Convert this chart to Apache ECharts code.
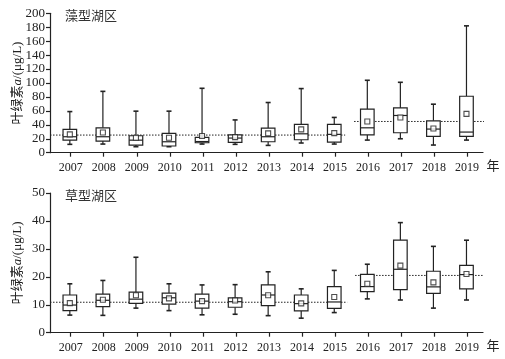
<!DOCTYPE html>
<html>
<head>
<meta charset="utf-8">
<script src="https://cdn.jsdelivr.net/npm/echarts@6/dist/echarts.min.js"></script>
<style>html,body{margin:0;padding:0;background:#fff}#c{width:505px;height:359px}</style>
</head>
<body>
<div id="c"></div>
<script>
const years = [2007,2008,2009,2010,2011,2012,2013,2014,2015,2016,2017,2018,2019];
const yearLabels = years.map(String);

// 藻型湖区
const algaeLow  = [12, 12.4, 8.6, 8.6, 12.4, 12, 10.5, 13.9, 12.4, 18.1, 20, 11, 18.1];
const algaeQ1   = [18.1, 16.7, 11, 9.6, 14.3, 14.8, 15.7, 18.6, 15.3, 25.7, 28.6, 23.4, 23.4];
const algaeMed  = [22.9, 22.9, 18, 15.7, 16, 21, 22.9, 27.1, 26.3, 35.7, 53.4, 33.9, 29.6];
const algaeQ3   = [33.4, 35.7, 24.3, 27.7, 22, 25.7, 35.3, 40.6, 40.6, 62.4, 64.3, 45.7, 81];
const algaeHigh = [59, 88, 59.6, 59.6, 92.4, 47, 72, 92, 50.6, 103.9, 101, 69.6, 182];
const algaeMean = [26.3, 29, 21.4, 21.4, 23.9, 22.4, 27.7, 33.4, 28.1, 44.8, 50.6, 34.8, 55.7];
const algaePeriodMean = [[2006.4, 25.3], [2015.33, 25.3]];
const algaePeriodMean2 = [[2015.6, 44.8], [2019.56, 44.8]];

// 草型湖区
const grassLow  = [6.3, 6.2, 8.8, 7.9, 6.4, 6.6, 6.1, 5.2, 7.2, 12.1, 11.7, 8.8, 11.7];
const grassQ1   = [7.9, 9.3, 10.5, 10.2, 8.8, 9.1, 9.7, 7.8, 8.7, 14.7, 15.4, 14.1, 15.7];
const grassMed  = [9.9, 11.6, 12, 12.5, 11.3, 11.1, 13.5, 10.4, 11, 16.5, 22.7, 16.4, 20.8];
const grassQ3   = [13.5, 13.8, 14.5, 14.2, 13.8, 12.5, 17.1, 13.5, 16.5, 20.9, 33.1, 22, 24.1];
const grassHigh = [17.5, 18.7, 27, 17.5, 17.1, 17.2, 21.8, 15.7, 22.3, 24.5, 39.4, 30.9, 33.1];
const grassMean = [10.6, 11.8, 13.4, 12.3, 11.3, 11.5, 13.4, 10.5, 12.8, 17.5, 24, 18, 21];
const grassPeriodMean = [[2006.4, 10.9], [2015.39, 10.9]];
const grassPeriodMean2 = [[2015.63, 20.5], [2019.56, 20.5]];

const FONT = "'Liberation Serif','Noto Sans CJK SC',serif";
const INK = '#222';

function boxData(lo, q1, md, q3, hi) {
  return years.map((y, i) => [y, lo[i], q1[i], md[i], q3[i], hi[i]]);
}
function renderBox(params, api) {
  const x = api.value(0);
  const pLo = api.coord([x, api.value(1)]);
  const pQ1 = api.coord([x, api.value(2)]);
  const pMd = api.coord([x, api.value(3)]);
  const pQ3 = api.coord([x, api.value(4)]);
  const pHi = api.coord([x, api.value(5)]);
  const cx = pLo[0], hw = 6.8, cw = 2.5;
  const ls = {stroke: INK, lineWidth: 1.2, fill: null};
  return {type: 'group', children: [
    {type: 'line', shape: {x1: cx, y1: pQ3[1], x2: cx, y2: pHi[1]}, style: ls},
    {type: 'line', shape: {x1: cx, y1: pLo[1], x2: cx, y2: pQ1[1]}, style: ls},
    {type: 'line', shape: {x1: cx - cw, y1: pHi[1], x2: cx + cw, y2: pHi[1]}, style: {stroke: INK, lineWidth: 1.6}},
    {type: 'line', shape: {x1: cx - cw, y1: pLo[1], x2: cx + cw, y2: pLo[1]}, style: {stroke: INK, lineWidth: 1.6}},
    {type: 'rect', shape: {x: cx - hw, y: pQ3[1], width: 2 * hw, height: pQ1[1] - pQ3[1]}, style: {stroke: INK, lineWidth: 1.2, fill: '#fff'}},
    {type: 'line', shape: {x1: cx - hw, y1: pMd[1], x2: cx + hw, y2: pMd[1]}, style: ls}
  ]};
}
function valueX(gi) {
  return {gridIndex: gi, type: 'value', min: 2006.4, max: 2019.5,
    axisLine: {show: true, lineStyle: {color: INK, width: 1.2}},
    axisTick: {show: false}, axisLabel: {show: false}, splitLine: {show: false}};
}
function catX(gi) {
  return {gridIndex: gi, type: 'category', data: yearLabels, boundaryGap: true,
    axisLine: {show: false},
    axisTick: {show: true, alignWithLabel: true, length: 4, lineStyle: {color: INK, width: 1.2}},
    axisLabel: {fontFamily: FONT, fontSize: 12, color: INK, margin: 9},
    name: '年', nameLocation: 'end', nameGap: 3,
    nameTextStyle: {fontFamily: FONT, fontSize: 13, color: INK, verticalAlign: 'top', padding: [7, 0, 0, 0]}};
}
function valueY(gi, max, interval) {
  return {gridIndex: gi, type: 'value', min: 0, max: max, interval: interval,
    axisLine: {show: true, lineStyle: {color: INK, width: 1.2}},
    axisTick: {show: true, length: 4, lineStyle: {color: INK, width: 1.2}},
    axisLabel: {fontFamily: FONT, fontSize: 13, color: INK, margin: 5},
    splitLine: {show: false},
    name: '叶绿素{i|a}/(μg/L)', nameLocation: 'middle', nameRotate: 90, nameGap: 26,
    nameMoveOverlap: false,
    nameTextStyle: {fontFamily: FONT, fontSize: 13, color: INK,
      rich: {i: {fontFamily: FONT, fontSize: 13, fontStyle: 'italic', color: INK}}}};
}
function dotted(xi, yi, data) {
  return {type: 'line', xAxisIndex: xi, yAxisIndex: yi, data: data, symbol: 'none', clip: false, z: 1,
    lineStyle: {color: INK, width: 1, type: [1.5, 1.5]}, silent: true};
}
function boxes(xi, yi, data) {
  return {type: 'custom', xAxisIndex: xi, yAxisIndex: yi, data: data, renderItem: renderBox, z: 2,
    encode: {x: 0, y: [1, 2, 3, 4, 5]}};
}
function means(xi, yi, m) {
  return {type: 'scatter', xAxisIndex: xi, yAxisIndex: yi, data: years.map((y, i) => [y, m[i]]),
    symbol: 'rect', symbolSize: 5, z: 3,
    itemStyle: {color: '#fff', borderColor: INK, borderWidth: 1.1}};
}

const chart = echarts.init(document.getElementById('c'));
chart.setOption({
  animation: false,
  backgroundColor: '#fff',
  title: [
    {text: '藻型湖区', left: 60, top: 5, textStyle: {fontFamily: FONT, fontSize: 13, fontWeight: 'normal', color: '#333'}},
    {text: '草型湖区', left: 60, top: 185, textStyle: {fontFamily: FONT, fontSize: 13, fontWeight: 'normal', color: '#333'}}
  ],
  grid: [
    {left: 50, right: 22, top: 13.3, height: 139.4},
    {left: 54.2, right: 21.4, top: 13.3, height: 139.4},
    {left: 50, right: 22, top: 193, height: 139.7},
    {left: 54.2, right: 21.4, top: 193, height: 139.7}
  ],
  xAxis: [valueX(0), catX(1), valueX(2), catX(3)],
  yAxis: [
    valueY(0, 200, 20),
    {gridIndex: 1, type: 'value', show: false, min: 0, max: 200},
    valueY(2, 50, 10),
    {gridIndex: 3, type: 'value', show: false, min: 0, max: 50}
  ],
  series: [
    dotted(0, 0, algaePeriodMean), dotted(0, 0, algaePeriodMean2),
    boxes(0, 0, boxData(algaeLow, algaeQ1, algaeMed, algaeQ3, algaeHigh)),
    means(0, 0, algaeMean),
    dotted(2, 2, grassPeriodMean), dotted(2, 2, grassPeriodMean2),
    boxes(2, 2, boxData(grassLow, grassQ1, grassMed, grassQ3, grassHigh)),
    means(2, 2, grassMean)
  ]
});
</script>
</body>
</html>
